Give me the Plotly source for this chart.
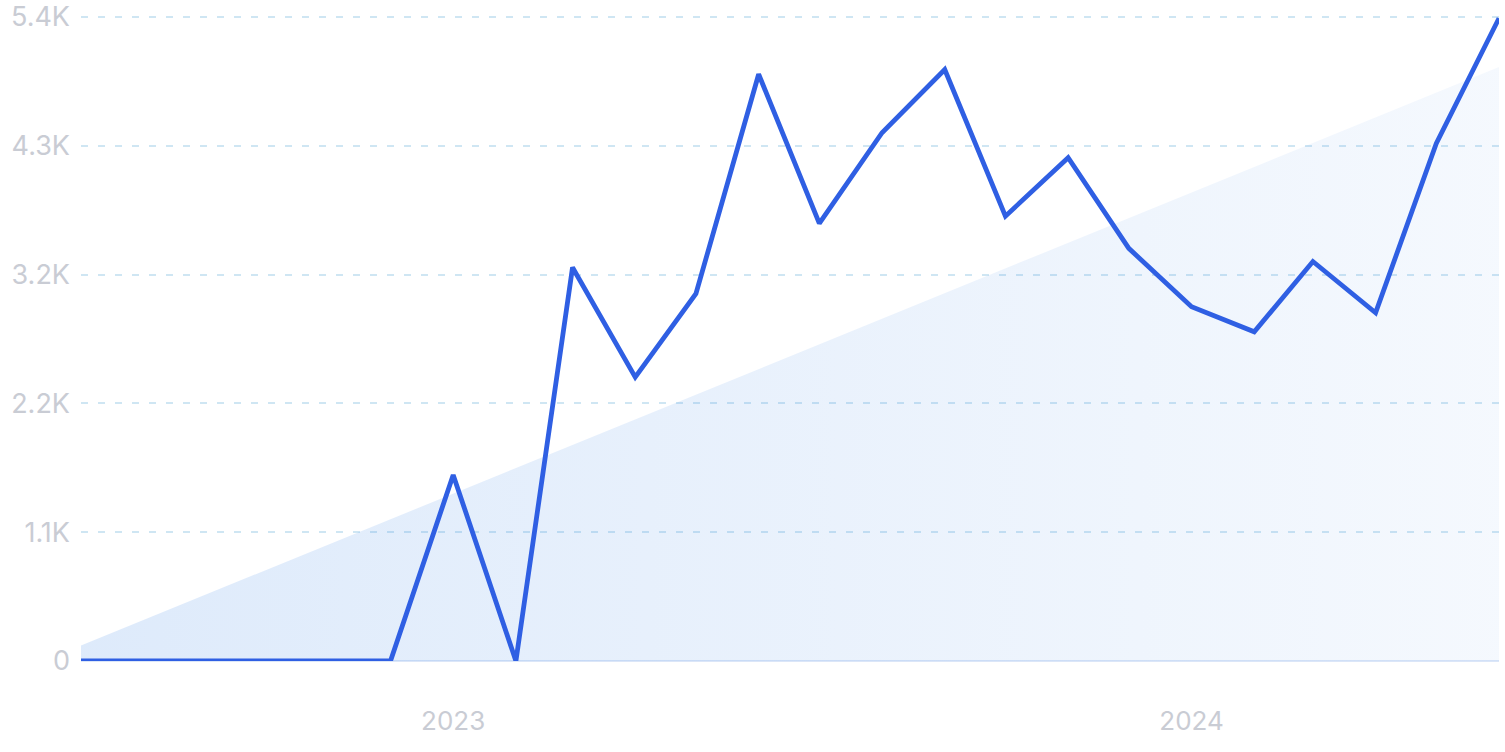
import plotly.graph_objects as go

months = ["2022-07-01", "2022-08-01", "2022-09-01", "2022-10-01", "2022-11-01", "2022-12-01",
          "2023-01-01", "2023-02-01", "2023-03-01", "2023-04-01", "2023-05-01", "2023-06-01",
          "2023-07-01", "2023-08-01", "2023-09-01", "2023-10-01", "2023-11-01", "2023-12-01",
          "2024-01-01", "2024-02-01", "2024-03-01", "2024-04-01", "2024-05-01", "2024-06-01"]
values = [0, 0, 0, 0, 0, 0,
          1560, 0, 3300, 2380, 3080, 4920,
          3670, 4430, 4960, 3730, 4220, 3460,
          2970, 2760, 3350, 2920, 4340, 5390]
trend_x = ["2022-07-01", "2024-06-01"]
trend_y = [130, 4980]
y_tickvals = [0, 1080, 2160, 3240, 4320, 5400]
y_ticktext = ["0", "1.1K", "2.2K", "3.2K", "4.3K", "5.4K"]
x_tickvals = ["2023-01-01", "2024-01-01"]
x_ticktext = ["2023", "2024"]

fig = go.Figure()
fig.add_trace(go.Scatter(
    x=trend_x, y=trend_y, mode="lines", line=dict(width=0),
    fill="tozeroy",
    fillgradient=dict(type="horizontal",
                      colorscale=[[0, "rgba(70,140,232,0.18)"], [1, "rgba(70,140,232,0.055)"]]),
    hoverinfo="skip", showlegend=False,
))
fig.add_trace(go.Scatter(
    x=months, y=values, mode="lines",
    line=dict(color="#2f5fe3", width=4.8),
    showlegend=False,
))

fig.update_layout(
    width=1505, height=752,
    margin=dict(l=81, r=6, t=7, b=91),
    paper_bgcolor="white", plot_bgcolor="white",
    font=dict(family="Inter", color="#c9ccd4", size=26),
)
fig.update_xaxes(
    range=["2022-07-01", "2024-06-01"],
    tickvals=x_tickvals, ticktext=x_ticktext,
    showgrid=False, zeroline=False, showline=False, ticks="",
    tickfont=dict(size=26, color="#c9ccd4"), ticklabelstandoff=42,
    automargin=False, ticklabeloverflow="allow",
)
fig.update_yaxes(
    range=[0, 5484],
    tickvals=y_tickvals, ticktext=y_ticktext,
    showgrid=True, gridcolor="#cfe6f3", griddash="7px,10px", gridwidth=1.5,
    zeroline=True, zerolinecolor="#dbe6f8", zerolinewidth=2,
    showline=False, ticks="",
    tickfont=dict(size=27, color="#c9ccd4"), ticklabelstandoff=10,
    automargin=False, ticklabeloverflow="allow",
)

fig.write_html("out.html", config={"displayModeBar": False},
               post_script="document.body.style.margin='0';")
